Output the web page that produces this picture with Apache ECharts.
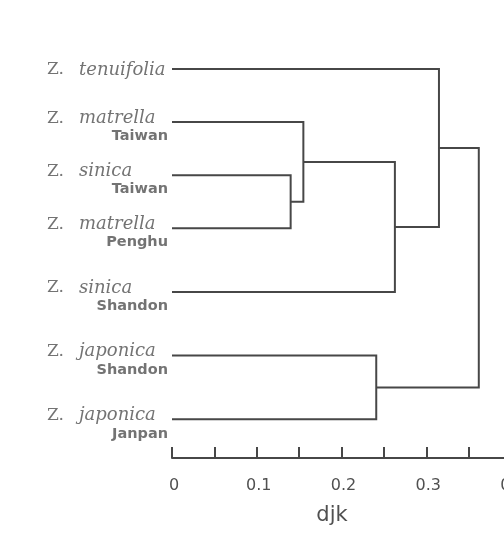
<!DOCTYPE html>
<html><head><meta charset="utf-8">
<script src="https://cdn.jsdelivr.net/npm/echarts@6/dist/echarts.min.js"></script>
<style>html,body{margin:0;padding:0;background:#fff}#c{width:504px;height:535px}</style>
</head><body><div id="c"></div>
<script>
// ---- data ----
const genus = ['Z.', 'Z.', 'Z.', 'Z.', 'Z.', 'Z.', 'Z.'];
const species = ['tenuifolia', 'matrella', 'sinica', 'matrella', 'sinica', 'japonica', 'japonica'];
const locations = ['', 'Taiwan', 'Taiwan', 'Penghu', 'Shandon', 'Shandon', 'Janpan'];
const leafRows = [0, 1, 2, 3, 4.2, 5.4, 6.6];
// merges: child A, child B, linkage distance (indices >= 7 are earlier merges: 7 = first merge)
const mergeA = [2, 1, 8, 0, 5, 10];
const mergeB = [3, 7, 4, 9, 6, 11];
const mergeDist = [0.140, 0.155, 0.263, 0.315, 0.241, 0.362];
const xTickValues = [0, 0.1, 0.2, 0.3, 0.4];
const xTickLabels = ['0', '0.1', '0.2', '0.3', '0.4'];
const xTitle = 'djk';

// ---- build tree links ----
const nodeX = leafRows.map(() => 0);
const nodeY = leafRows.slice();
const links = [];
mergeDist.forEach((d, i) => {
  const a = mergeA[i], b = mergeB[i];
  links.push({ coords: [[nodeX[a], nodeY[a]], [d, nodeY[a]], [d, nodeY[b]], [nodeX[b], nodeY[b]]] });
  nodeX.push(d);
  nodeY.push((nodeY[a] + nodeY[b]) / 2);
});

const ink = '#474747';
const txt = '#505050';
const leafData = leafRows.map((r, i) => ({
  value: [0, r],
  label: { offset: locations[i] ? [0, 4.5] : [0, 1] }
}));

const chart = echarts.init(document.getElementById('c'), null, { renderer: 'canvas' });
chart.setOption({
  backgroundColor: '#fff',
  animation: false,
  grid: { left: 172, right: -7, top: 42.5, bottom: 77, containLabel: false, outerBoundsMode: 'none' },
  xAxis: {
    type: 'value', min: 0, max: 0.4, interval: 0.05, position: 'bottom',
    splitLine: { show: false },
    axisLine: { show: true, onZero: false, lineStyle: { color: ink, width: 2 } },
    axisTick: { show: true, inside: true, length: 11, lineStyle: { color: ink, width: 2 } },
    axisLabel: {
      margin: 20, color: txt, fontFamily: 'DejaVu Sans', fontSize: 16, padding: [0, 0, 0, 4],
      formatter: v => { const k = xTickValues.findIndex(t => Math.abs(t - v) < 1e-9); return k < 0 ? '' : xTickLabels[k]; }
    },
    name: xTitle, nameLocation: 'middle', nameGap: 47,
    nameTextStyle: { color: txt, fontFamily: 'DejaVu Sans', fontSize: 21, padding: [0, 19, 0, 0] }
  },
  yAxis: { type: 'value', inverse: true, min: -0.5, max: 7.33, show: false },
  series: [
    {
      type: 'lines', coordinateSystem: 'cartesian2d', polyline: true, silent: true,
      lineStyle: { color: ink, width: 2, opacity: 1 },
      data: links
    },
    {
      type: 'scatter', symbolSize: 0, silent: true,
      data: leafData,
      label: {
        show: true, position: 'left', distance: 4, width: 121, align: 'right',
        formatter: p => {
          const i = p.dataIndex;
          let s = '{z|' + genus[i] + '}{sp|' + species[i] + '}';
          if (locations[i]) s += '\n{loc|' + locations[i] + '}';
          return s;
        },
        rich: {
          z: { fontFamily: 'DejaVu Serif', fontSize: 17, color: txt, width: 32, align: 'left', lineHeight: 20 },
          sp: { fontFamily: 'DejaVu Serif', fontStyle: 'italic', fontSize: 18, color: txt, align: 'left', lineHeight: 20 },
          loc: { fontFamily: 'DejaVu Sans', fontWeight: 'bold', fontSize: 14.5, color: txt, align: 'right', lineHeight: 17 }
        }
      }
    }
  ]
});
</script>
</body></html>
